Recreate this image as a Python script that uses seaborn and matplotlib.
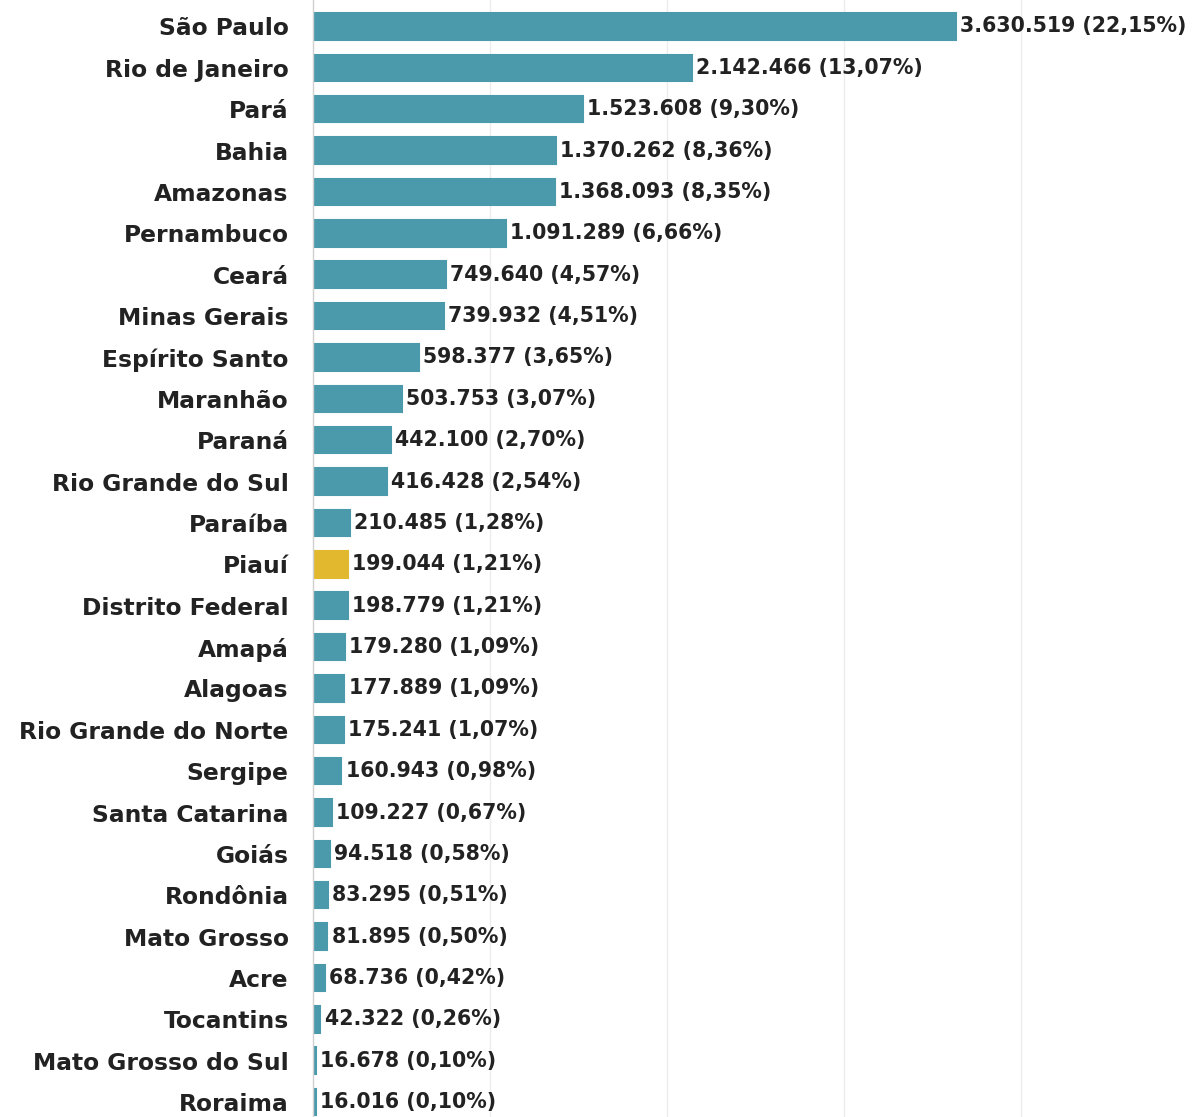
import pandas as pd
import matplotlib
matplotlib.use("Agg")
import matplotlib.pyplot as plt
import seaborn as sns

# ================= DATOS =================
estados = [
    "São Paulo", "Rio de Janeiro", "Pará", "Bahia", "Amazonas", "Pernambuco",
    "Ceará", "Minas Gerais", "Espírito Santo", "Maranhão", "Paraná",
    "Rio Grande do Sul", "Paraíba", "Piauí", "Distrito Federal", "Amapá",
    "Alagoas", "Rio Grande do Norte", "Sergipe", "Santa Catarina", "Goiás",
    "Rondônia", "Mato Grosso", "Acre", "Tocantins", "Mato Grosso do Sul", "Roraima",
]
valores = [
    3630519, 2142466, 1523608, 1370262, 1368093, 1091289,
    749640, 739932, 598377, 503753, 442100,
    416428, 210485, 199044, 198779, 179280,
    177889, 175241, 160943, 109227, 94518,
    83295, 81895, 68736, 42322, 16678, 16016,
]
percentuais = [
    "22,15", "13,07", "9,30", "8,36", "8,35", "6,66",
    "4,57", "4,51", "3,65", "3,07", "2,70",
    "2,54", "1,28", "1,21", "1,21", "1,09",
    "1,09", "1,07", "0,98", "0,67", "0,58",
    "0,51", "0,50", "0,42", "0,26", "0,10", "0,10",
]
destaque = "Piauí"

COR_BARRA = "#4a9aab"
COR_DESTAQUE = "#e2b82e"
COR_TEXTO = "#222222"

df = pd.DataFrame({"estado": estados, "valor": valores, "pct": percentuais})


def fmt_br(v):
    return f"{v:,}".replace(",", ".")


# ================= PLOT =================
sns.set_style("white")
plt.rcParams["font.family"] = ["DejaVu Sans"]

fig = plt.figure(figsize=(11.98, 11.17), dpi=100)
ax = fig.add_axes([313 / 1198, 0, 885 / 1198, 1])

palette = {e: (COR_DESTAQUE if e == destaque else COR_BARRA) for e in estados}
sns.barplot(data=df, x="valor", y="estado", hue="estado", palette=palette,
            legend=False, width=0.64, saturation=1, ax=ax, zorder=2)
# borda na mesma cor para que as barras pequenas continuem visíveis
for bar in ax.patches:
    bar.set_edgecolor(bar.get_facecolor())
    bar.set_linewidth(1.5)

ax.set_xlim(0, 5_000_000)
ax.set_ylim(26.36, -0.64)
ax.set_xticks([1_000_000, 2_000_000, 3_000_000, 4_000_000])
ax.grid(axis="x", color="#ececec", linewidth=1, zorder=0)
ax.tick_params(axis="x", bottom=False, labelbottom=False)
ax.tick_params(axis="y", left=False, pad=14, labelsize=16.8, labelcolor=COR_TEXTO)
for lbl in ax.get_yticklabels():
    lbl.set_fontweight("bold")
ax.set_xlabel("")
ax.set_ylabel("")

for s in ["top", "right", "bottom"]:
    ax.spines[s].set_visible(False)
ax.spines["left"].set_color("#d0d0d0")
ax.spines["left"].set_linewidth(1)

# Rótulos de valor
for i, row in df.iterrows():
    ax.annotate(f"{fmt_br(row['valor'])} ({row['pct']}%)",
                xy=(row["valor"], i), xytext=(3, 0), textcoords="offset points",
                va="center", ha="left", fontsize=14.8, fontweight="bold",
                color=COR_TEXTO)

fig.savefig("out.png", dpi=100)
